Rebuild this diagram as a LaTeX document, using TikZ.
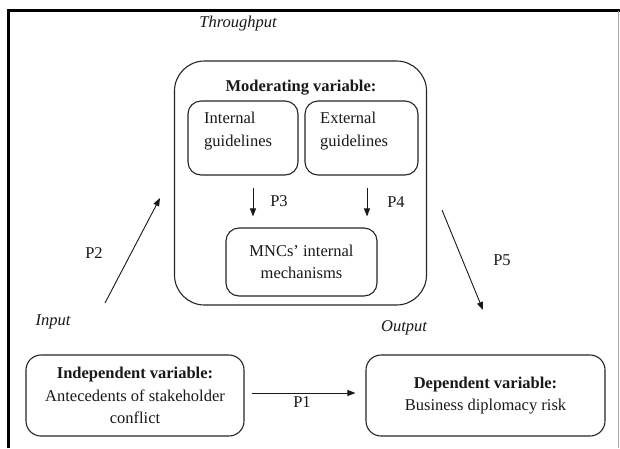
\documentclass[tikz,border=0pt]{standalone}
\usepackage{fontspec}
\setmainfont{Liberation Serif}
\usetikzlibrary{arrows.meta}
\begin{document}
\begin{tikzpicture}[x=1pt,y=-1pt,
  font=\fontsize{16.5}{22.5}\selectfont,
  box/.style={draw=black!85, line width=1.1pt, rounded corners=#1, inner sep=0pt, text=black!90},
  box/.default=14pt,
  arr/.style={-{Triangle[length=8pt,width=6pt]}, line width=0.9pt, draw=black!90},
  lbl/.style={inner sep=0pt, text=black!90},
  frame/.style={line width=3pt, black}]
\useasboundingbox (0,0) rectangle (620,448);
\fill[white] (0,0) rectangle (620,448);
% frame
\draw[frame] (8,448) -- (8,10.5) -- (620,10.5);
\draw[line width=0.8pt, black!35] (618.5,10.5) -- (618.5,448);
% moderating block
\node[box=30pt, minimum width=252pt, minimum height=244pt] (mod) at (300.5,183) {};
\node[lbl, font=\fontsize{16.5}{22.5}\selectfont\bfseries] (modlbl) at (301,88) {Moderating variable:};
\node[box=13pt, minimum width=110pt, minimum height=74pt] (int) at (243,138) {};
\node[lbl, align=left, anchor=west] (inttxt) at (204,131) {Internal\\guidelines};
\node[box=13pt, minimum width=113pt, minimum height=74pt] (ext) at (361.5,138) {};
\node[lbl, align=left, anchor=west] (exttxt) at (320,131) {External\\guidelines};
\node[box=13pt, minimum width=151pt, minimum height=68pt, align=center] (mnc) at (301.5,262) {MNCs’ internal\\mechanisms};
% independent / dependent
\node[box=15pt, minimum width=218pt, minimum height=81pt, align=center] (ind) at (135,395.5) {\textbf{Independent variable:}\\Antecedents of stakeholder\\conflict};
\node[box=15pt, minimum width=239pt, minimum height=81pt, align=center] (dep) at (485.5,395.5) {\textbf{Dependent variable:}\\Business diplomacy risk};
% arrows
\draw[arr, shorten <=12pt, shorten >=11pt] ([xshift=10pt]int.south) -- ([xshift=10pt]int.south |- mnc.north);
\draw[arr, shorten <=12pt, shorten >=11pt] ([xshift=5.5pt]ext.south) -- ([xshift=5.5pt]ext.south |- mnc.north);
\draw[arr, shorten <=7pt, shorten >=10pt] ([yshift=2.5pt]ind.east) -- ([yshift=2.5pt]dep.west);
\coordinate (p2s) at (105,303);
\coordinate (p2e) at (160,198);
\draw[arr] (p2s) -- (p2e);
\coordinate (p5s) at (442,210);
\coordinate (p5e) at (483,310);
\draw[arr] (p5s) -- (p5e);
% labels
\node[lbl] (p1) at (302,402) {P1};
\node[lbl] (p2) at (94,253) {P2};
\node[lbl] (p3) at (279,201) {P3};
\node[lbl] (p4) at (396,202) {P4};
\node[lbl] (p5) at (502,260) {P5};
\node[lbl, font=\fontsize{16.5}{22.5}\selectfont\itshape] (thr) at (238,24) {Throughput};
\node[lbl, font=\fontsize{16.5}{22.5}\selectfont\itshape] (inp) at (53,322) {Input};
\node[lbl, font=\fontsize{16.5}{22.5}\selectfont\itshape] (outp) at (404,328) {Output};
\end{tikzpicture}
\end{document}
